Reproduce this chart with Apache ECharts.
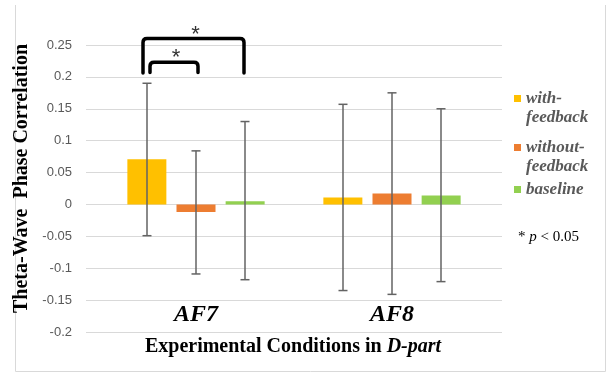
<!DOCTYPE html>
<html>
<head>
<meta charset="utf-8">
<script src="https://cdn.jsdelivr.net/npm/echarts@6/dist/echarts.min.js"></script>
<style>
  html, body { margin: 0; padding: 0; background: #fff; }
  #chart { width: 608px; height: 374px; }
</style>
</head>
<body>
<div id="chart"></div>
<script>
// data
var categories = ['AF7', 'AF8']
var seriesNames = ['with-feedback', 'without-feedback', 'baseline']
var withFeedback = [0.071, 0.011]
var withoutFeedback = [-0.012, 0.017]
var baseline = [0.005, 0.014]
// error bars [low, high]
var withFeedbackErr = [[-0.049, 0.19], [-0.135, 0.157]]
var withoutFeedbackErr = [[-0.109, 0.084], [-0.141, 0.175]]
var baselineErr = [[-0.118, 0.13], [-0.121, 0.15]]
// significance brackets (category, from series, to series, leg bottom, top)
var bracketCat = [0, 0]
var bracketFrom = [0, 0]
var bracketTo = [2, 1]
var bracketBase = [0.206, 0.207]
var bracketTop = [0.26, 0.223]
var yMin = -0.2, yMax = 0.25, yStep = 0.05

var colors = ['#FFC000', '#ED7D31', '#92D050']
var BAR_W = 39, STEP = 49
var legNudge = [[-4, -1], [3, 2]]

var Chart = echarts.init(document.getElementById('chart'))

var errSeries = function (errs, idx) {
  return {
    type: 'custom',
    xAxisIndex: 1,
    yAxisIndex: 1,
    z: 5,
    silent: true,
    data: errs.map(function (e, j) { return [j, e[0], e[1]] }),
    encode: { x: 0, y: [1, 2] },
    renderItem: function (params, api) {
      var lo = api.coord([api.value(0), api.value(1)])
      var hi = api.coord([api.value(0), api.value(2)])
      var x = lo[0] + (idx - 1) * STEP
      var st = { stroke: '#636363', lineWidth: 1.5 }
      return {
        type: 'group',
        children: [
          { type: 'line', shape: { x1: x, y1: lo[1], x2: x, y2: hi[1] }, style: st },
          { type: 'line', shape: { x1: x - 4.5, y1: lo[1], x2: x + 4.5, y2: lo[1] }, style: st },
          { type: 'line', shape: { x1: x - 4.5, y1: hi[1], x2: x + 4.5, y2: hi[1] }, style: st }
        ]
      }
    }
  }
}

var bracketData = bracketCat.map(function (c, i) {
  return [c, bracketBase[i], bracketTop[i], bracketFrom[i], bracketTo[i], i]
})

// two-line entries get an empty first line so the marker sits beside the first word
var legendFmt = function (name) {
  return name.indexOf('-') >= 0 ? ' \n' + name.replace('-', '-\n') : name
}
var legendTops = [70, 119, 180]

var option = {
  animation: false,
  grid: [
    { left: 86, right: 106, top: 45, bottom: 42 },
    { left: 98, right: 118, top: 45, bottom: 42 }
  ],
  xAxis: [
    { gridIndex: 0, type: 'value', show: false },
    {
      gridIndex: 1,
      type: 'category',
      data: categories,
      axisLine: { show: false },
      axisTick: { show: false },
      axisLabel: {
        margin: -17,
        verticalAlign: 'middle',
        fontFamily: 'Liberation Serif',
        fontStyle: 'italic',
        fontWeight: 'bold',
        fontSize: 24,
        color: '#000'
      }
    }
  ],
  yAxis: [
    {
      gridIndex: 0,
      type: 'value',
      min: yMin,
      max: yMax,
      interval: yStep,
      name: 'Theta-Wave  Phase Correlation',
      nameLocation: 'middle',
      nameGap: 44,
      nameTextStyle: {
        fontFamily: 'Liberation Serif',
        fontWeight: 'bold',
        fontSize: 20,
        color: '#000',
        padding: [0, 0, 0, 20]
      },
      axisLine: { show: false },
      axisTick: { show: false },
      axisLabel: {
        margin: 14,
        fontFamily: 'Liberation Sans',
        fontSize: 13,
        color: '#595959'
      },
      splitLine: { lineStyle: { color: '#d9d9d9', width: 1 } }
    },
    { gridIndex: 1, type: 'value', min: yMin, max: yMax, interval: yStep, show: false }
  ],
  legend: seriesNames.map(function (n, i) {
    return {
      data: [n],
      orient: 'vertical',
      left: 514,
      top: legendTops[i],
      padding: 0,
      icon: 'rect',
      itemWidth: 7,
      itemHeight: 7,
      selectedMode: false,
      formatter: legendFmt,
      textStyle: {
        fontFamily: 'Liberation Serif',
        fontStyle: 'italic',
        fontWeight: 'bold',
        fontSize: 17,
        lineHeight: 19,
        color: '#595959'
      }
    }
  }),
  graphic: [
    {
      type: 'polyline',
      shape: { points: [[15.5, 5], [15.5, 371.5], [605.5, 371.5], [605.5, 5]] },
      style: { stroke: '#d9d9d9', fill: null, lineWidth: 1 }
    },
    {
      type: 'text',
      x: 293,
      y: 347,
      style: {
        text: '{a|Experimental Conditions in }{b|D-part}',
        align: 'center',
        verticalAlign: 'middle',
        rich: {
          a: { fontFamily: 'Liberation Serif', fontWeight: 'bold', fontSize: 20, fill: '#000' },
          b: { fontFamily: 'Liberation Serif', fontWeight: 'bold', fontStyle: 'italic', fontSize: 20, fill: '#000' }
        }
      }
    },
    {
      type: 'text',
      x: 518,
      y: 237,
      style: {
        text: '{a|* }{b|p}{a| < 0.05}',
        verticalAlign: 'middle',
        rich: {
          a: { fontFamily: 'Liberation Serif', fontSize: 15, fill: '#000' },
          b: { fontFamily: 'Liberation Serif', fontStyle: 'italic', fontSize: 15, fill: '#000' }
        }
      }
    }
  ],
  series: [
    { name: seriesNames[0], type: 'bar', xAxisIndex: 1, yAxisIndex: 1, data: withFeedback, barWidth: BAR_W, barGap: '26%', itemStyle: { color: colors[0] } },
    { name: seriesNames[1], type: 'bar', xAxisIndex: 1, yAxisIndex: 1, data: withoutFeedback, barWidth: BAR_W, barGap: '26%', itemStyle: { color: colors[1] } },
    { name: seriesNames[2], type: 'bar', xAxisIndex: 1, yAxisIndex: 1, data: baseline, barWidth: BAR_W, barGap: '26%', itemStyle: { color: colors[2] } },
    errSeries(withFeedbackErr, 0),
    errSeries(withoutFeedbackErr, 1),
    errSeries(baselineErr, 2),
    {
      type: 'custom',
      xAxisIndex: 1,
      yAxisIndex: 1,
      clip: false,
      silent: true,
      z: 6,
      data: bracketData,
      encode: { x: 0, y: [1, 2] },
      renderItem: function (params, api) {
        var cat = api.value(0)
        var b = api.coord([cat, api.value(1)])
        var t = api.coord([cat, api.value(2)])
        var k = api.value(5)
        var x1 = b[0] + (api.value(3) - 1) * STEP + legNudge[k][0]
        var x2 = b[0] + (api.value(4) - 1) * STEP + legNudge[k][1]
        var yb = b[1], yt = t[1], r = 4
        var d = 'M' + x1 + ',' + yb + ' L' + x1 + ',' + (yt + r) +
          ' Q' + x1 + ',' + yt + ' ' + (x1 + r) + ',' + yt +
          ' L' + (x2 - r) + ',' + yt +
          ' Q' + x2 + ',' + yt + ' ' + x2 + ',' + (yt + r) +
          ' L' + x2 + ',' + yb
        return {
          type: 'group',
          children: [
            { type: 'path', shape: { pathData: d }, style: { stroke: '#000', fill: null, lineWidth: 3.5, lineCap: 'round', lineJoin: 'round' } },
            {
              type: 'text',
              x: (x1 + x2) / 2 + 2,
              y: yt - 4,
              style: { text: '*', align: 'center', verticalAlign: 'middle', fontFamily: 'Liberation Sans', fontSize: 22, fill: '#333' }
            }
          ]
        }
      }
    }
  ]
}
Chart.setOption(option)
</script>
</body>
</html>
